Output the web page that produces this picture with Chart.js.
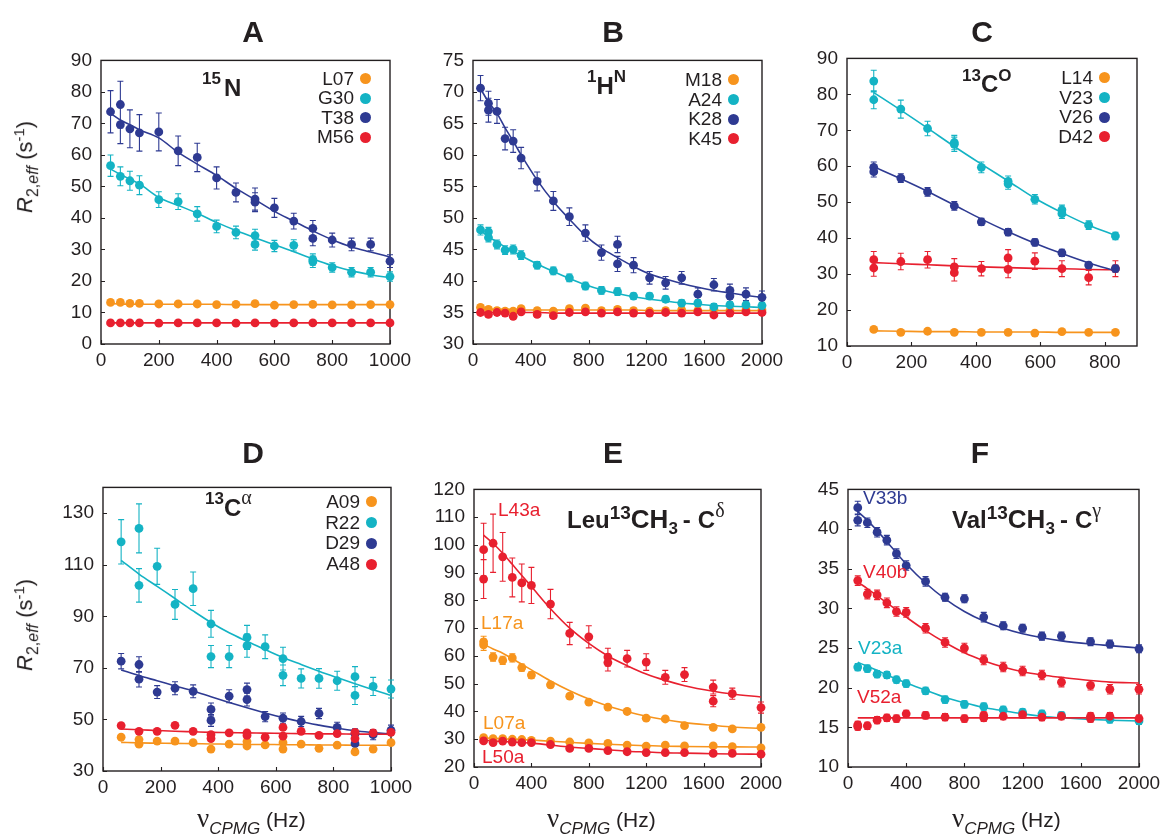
<!DOCTYPE html>
<html>
<head>
<meta charset="utf-8">
<script src="https://cdn.jsdelivr.net/npm/chart.js@4/dist/chart.umd.min.js"></script>
<style>
  body { margin: 0; background: #fff; }
  #fig { position: relative; width: 1161px; height: 835px; overflow: hidden; background: #fff;
         font-family: "Liberation Sans", Arial, Helvetica, sans-serif; color: #231f20; }
  #fig canvas { position: absolute; }
  .tx { position: absolute; white-space: nowrap; }
  .pl { font-weight: bold; font-size: 30px; line-height: 30px; transform: translateX(-50%); }
  .leg { position: absolute; text-align: right; font-size: 19px; white-space: nowrap; }
  .dot { display: inline-block; width: 11px; height: 11px; border-radius: 50%; margin-left: 6px; vertical-align: middle; position: relative; top: -1px; }
  .ann { font-weight: bold; font-size: 24px; line-height: 24px; }
  .su { position: relative; font-size: 17px; }
  .gr { font-family: "Liberation Serif", "DejaVu Serif", serif; font-weight: normal; }
  .big { font-weight: bold; font-size: 24px; line-height: 24px; }
  .lab { font-size: 19px; line-height: 19px; }
  .ytl { position: absolute; white-space: nowrap; font-size: 22px; line-height: 22px; transform: translate(-50%, -50%) rotate(-90deg); }
  .xtl { position: absolute; white-space: nowrap; font-size: 21px; line-height: 21px; }
</style>
</head>
<body>
<div id="fig">
  <!-- panel letters -->
  <div class="tx pl" style="left:253px;top:17px">A</div>
  <div class="tx pl" style="left:613px;top:17px">B</div>
  <div class="tx pl" style="left:982px;top:17px">C</div>
  <div class="tx pl" style="left:253px;top:438px">D</div>
  <div class="tx pl" style="left:613px;top:438px">E</div>
  <div class="tx pl" style="left:980px;top:438px">F</div>

  <!-- nucleus labels -->
  <div class="tx ann" style="left:202px;top:76px"><span class="su" style="top:-12px;margin-right:3px">15</span>N</div>
  <div class="tx ann" style="left:587px;top:74px"><span class="su" style="top:-12px">1</span>H<span class="su" style="top:-12px">N</span></div>
  <div class="tx ann" style="left:962px;top:72px"><span class="su" style="top:-11px">13</span>C<span class="su" style="top:-11px">O</span></div>
  <div class="tx ann" style="left:205px;top:496px"><span class="su" style="top:-12px">13</span>C<span class="su gr" style="top:-12px;font-size:20px">α</span></div>
  <div class="tx big" style="left:567px;top:507px">Leu<span class="su" style="top:-9px;font-size:19px">13</span><span style="font-size:26px">CH</span><span class="su" style="top:6px">3</span><span style="margin:0 7px 0 5px">-</span>C<span class="su gr" style="top:-11px;font-size:20px">δ</span></div>
  <div class="tx big" style="left:952px;top:507px">Val<span class="su" style="top:-9px;font-size:19px">13</span><span style="font-size:26px">CH</span><span class="su" style="top:6px">3</span><span style="margin:0 7px 0 5px">-</span>C<span class="su gr" style="top:-11px;font-size:20px">γ</span></div>

  <!-- legends -->
  <div class="leg" style="right:790px;top:69px;line-height:19.4px">
    <div>L07<span class="dot" style="background:#f7941d"></span></div>
    <div>G30<span class="dot" style="background:#14b3c4"></span></div>
    <div>T38<span class="dot" style="background:#2e3a92"></span></div>
    <div>M56<span class="dot" style="background:#e8202f"></span></div>
  </div>
  <div class="leg" style="right:422px;top:70px;line-height:19.6px">
    <div>M18<span class="dot" style="background:#f7941d"></span></div>
    <div>A24<span class="dot" style="background:#14b3c4"></span></div>
    <div>K28<span class="dot" style="background:#2e3a92"></span></div>
    <div>K45<span class="dot" style="background:#e8202f"></span></div>
  </div>
  <div class="leg" style="right:51px;top:68px;line-height:19.6px">
    <div>L14<span class="dot" style="background:#f7941d"></span></div>
    <div>V23<span class="dot" style="background:#14b3c4"></span></div>
    <div>V26<span class="dot" style="background:#2e3a92"></span></div>
    <div>D42<span class="dot" style="background:#e8202f"></span></div>
  </div>
  <div class="leg" style="right:784px;top:492px;line-height:20.7px">
    <div>A09<span class="dot" style="background:#f7941d"></span></div>
    <div>R22<span class="dot" style="background:#14b3c4"></span></div>
    <div>D29<span class="dot" style="background:#2e3a92"></span></div>
    <div>A48<span class="dot" style="background:#e8202f"></span></div>
  </div>

  <!-- methyl labels -->
  <div class="tx lab" style="left:498px;top:500px;color:#e8202f">L43a</div>
  <div class="tx lab" style="left:481px;top:613px;color:#f7941d">L17a</div>
  <div class="tx lab" style="left:483px;top:713px;color:#f7941d">L07a</div>
  <div class="tx lab" style="left:482px;top:747px;color:#e8202f">L50a</div>
  <div class="tx lab" style="left:863px;top:488px;color:#2e3a92">V33b</div>
  <div class="tx lab" style="left:863px;top:562px;color:#e8202f">V40b</div>
  <div class="tx lab" style="left:858px;top:638px;color:#14b3c4">V23a</div>
  <div class="tx lab" style="left:857px;top:687px;color:#e8202f">V52a</div>

  <!-- axis titles -->
  <div class="ytl" style="left:26px;top:167px"><i>R</i><sub style="font-size:16px">2,<i>eff</i></sub> (s<sup style="font-size:15px">-1</sup>)</div>
  <div class="ytl" style="left:26px;top:625px"><i>R</i><sub style="font-size:16px">2,<i>eff</i></sub> (s<sup style="font-size:15px">-1</sup>)</div>
  <div class="xtl" style="left:197px;top:808px"><span class="gr" style="font-size:27px">ν</span><span style="position:relative;top:7px;font-size:17px"><i>CPMG</i></span> (Hz)</div>
  <div class="xtl" style="left:547px;top:808px"><span class="gr" style="font-size:27px">ν</span><span style="position:relative;top:7px;font-size:17px"><i>CPMG</i></span> (Hz)</div>
  <div class="xtl" style="left:952px;top:808px"><span class="gr" style="font-size:27px">ν</span><span style="position:relative;top:7px;font-size:17px"><i>CPMG</i></span> (Hz)</div>
</div>

<script>
// ---------- Panel A: 15N ----------
const aX        = [33, 67, 100, 133, 200, 267, 333, 400, 467, 533, 600, 667, 733, 800, 867, 933, 1000];
const aL07      = [13.2, 13.2, 12.9, 12.9, 12.7, 12.7, 12.7, 12.5, 12.6, 12.8, 12.3, 12.5, 12.6, 12.4, 12.4, 12.5, 12.5];
const aL07Fit   = [12.8, 12.7, 12.6, 12.6, 12.6, 12.6, 12.6, 12.6, 12.5, 12.5, 12.5, 12.5, 12.5, 12.5, 12.5, 12.5, 12.5];
const aM56      = [6.7, 6.7, 6.7, 6.7, 6.6, 6.7, 6.7, 6.7, 6.6, 6.7, 6.6, 6.7, 6.7, 6.7, 6.7, 6.7, 6.7];
const aM56Fit   = [6.7, 6.7, 6.7, 6.7, 6.7, 6.7, 6.7, 6.7, 6.7, 6.7, 6.7, 6.7, 6.7, 6.7, 6.7, 6.7, 6.7];
const aG30X     = [33, 67, 100, 133, 200, 267, 333, 400, 467, 533, 533, 600, 667, 733, 733, 800, 867, 933, 1000];
const aG30      = [56.6, 53.2, 51.8, 50.4, 45.8, 45.2, 41.3, 37.3, 35.4, 34.4, 31.6, 31.1, 31.3, 26.8, 26.1, 24.3, 22.8, 22.8, 21.4];
const aG30Err   = [3.4, 3.0, 3.0, 3.0, 2.5, 2.5, 2.3, 2.0, 2.0, 2.0, 1.8, 1.8, 1.8, 1.8, 1.8, 1.5, 1.5, 1.5, 1.5];
const aG30Fit   = [55.5, 53.8, 52.3, 50.8, 46.5, 44.0, 41.5, 38.6, 36.0, 33.7, 31.5, 29.3, 27.0, 24.9, 23.2, 22.0, 21.0];
const aT38X     = [33, 67, 67, 100, 133, 200, 267, 333, 400, 467, 533, 533, 600, 667, 733, 733, 800, 867, 933, 1000];
const aT38      = [73.7, 76.0, 69.6, 68.3, 67.0, 67.3, 61.3, 59.2, 52.7, 48.1, 46.0, 45.0, 43.2, 39.0, 36.7, 33.5, 33.0, 31.6, 31.6, 26.3];
const aT38Err   = [6.7, 7.4, 6.0, 6.0, 5.8, 6.0, 4.7, 4.5, 3.5, 3.0, 3.5, 3.0, 3.0, 2.5, 2.5, 2.3, 2.2, 2.0, 2.0, 2.0];
const aT38Fit   = [73.2, 71.1, 69.6, 68.0, 65.4, 60.8, 57.1, 53.5, 49.4, 45.8, 42.1, 39.0, 35.9, 33.1, 30.8, 29.2, 27.6];
const aXTicks   = [0, 200, 400, 600, 800, 1000];
const aYTicks   = [0, 10, 20, 30, 40, 50, 60, 70, 80, 90];

// ---------- Panel B: 1HN ----------
const bX        = [52, 107, 166, 222, 278, 333, 444, 556, 667, 778, 889, 1000, 1111, 1222, 1333, 1444, 1556, 1667, 1778, 1889, 2000];
const bM18      = [35.8, 35.5, 35.3, 35.2, 35.2, 35.6, 35.3, 35.2, 35.6, 35.7, 35.3, 35.5, 35.3, 35.2, 35.3, 35.4, 35.3, 35.5, 35.3, 35.4, 35.4];
const bM18Fit   = [35.5, 35.5, 35.5, 35.5, 35.5, 35.4, 35.4, 35.4, 35.4, 35.4, 35.4, 35.4, 35.4, 35.3, 35.3, 35.3, 35.3, 35.3, 35.3, 35.3, 35.3];
const bK45      = [35.0, 34.7, 35.0, 34.9, 34.4, 35.1, 34.7, 34.5, 35.0, 35.1, 34.9, 35.1, 34.9, 34.9, 35.0, 34.9, 35.1, 34.6, 34.9, 35.1, 35.0];
const bK45Fit   = [35.0, 35.0, 35.0, 35.0, 35.0, 35.0, 35.0, 34.9, 34.9, 34.9, 34.9, 34.9, 34.9, 34.9, 34.9, 34.9, 34.9, 34.9, 34.9, 34.9, 34.9];
const bA24X     = [52, 107, 107, 166, 222, 278, 333, 444, 556, 667, 778, 889, 1000, 1111, 1222, 1333, 1444, 1556, 1667, 1778, 1889, 2000];
const bA24      = [48.1, 47.8, 46.9, 45.8, 44.9, 45.0, 44.1, 42.5, 41.6, 40.5, 39.2, 38.5, 38.3, 37.6, 37.6, 37.1, 36.5, 36.5, 35.9, 36.2, 36.2, 36.1];
const bA24Err   = [0.8, 0.7, 0.7, 0.7, 0.7, 0.7, 0.7, 0.6, 0.6, 0.6, 0.6, 0.6, 0.6, 0.5, 0.5, 0.5, 0.5, 0.5, 0.5, 0.5, 0.5, 0.5];
const bA24Fit   = [48.0, 47.0, 46.2, 45.4, 44.7, 44.0, 42.7, 41.5, 40.4, 39.4, 38.6, 38.0, 37.5, 37.1, 36.8, 36.5, 36.3, 36.1, 36.0, 35.9, 35.8];
const bK28X     = [52, 107, 107, 166, 222, 278, 333, 444, 556, 667, 778, 889, 1000, 1000, 1111, 1222, 1333, 1444, 1556, 1667, 1778, 1778, 1889, 2000];
const bK28      = [70.6, 68.2, 67.1, 66.9, 62.6, 62.2, 59.5, 55.8, 52.7, 50.2, 47.6, 44.5, 45.8, 42.7, 42.5, 40.5, 39.7, 40.5, 37.9, 39.4, 38.5, 37.6, 37.9, 37.4];
const bK28Err   = [2.0, 1.9, 1.9, 1.9, 1.8, 1.8, 1.7, 1.5, 1.5, 1.4, 1.3, 1.2, 1.3, 1.2, 1.2, 1.0, 1.0, 1.0, 1.0, 1.0, 1.0, 1.0, 1.0, 1.0];
const bK28Fit   = [70.5, 68.4, 66.6, 64.3, 62.2, 60.0, 56.0, 52.6, 49.8, 47.2, 45.2, 43.7, 42.3, 41.1, 40.3, 39.6, 39.0, 38.5, 38.1, 37.7, 37.4];
const bXTicks   = [0, 400, 800, 1200, 1600, 2000];
const bYTicks   = [30, 35, 40, 45, 50, 55, 60, 65, 70, 75];

// ---------- Panel C: 13CO ----------
const cX        = [83, 167, 250, 333, 417, 500, 583, 667, 750, 833];
const cL14      = [14.6, 13.8, 14.1, 13.8, 13.8, 13.8, 13.6, 14.0, 13.8, 13.8];
const cL14Fit   = [14.2, 14.1, 14.0, 14.0, 13.9, 13.9, 13.9, 13.8, 13.8, 13.8];
const cV23X     = [83, 83, 167, 250, 333, 333, 417, 500, 500, 583, 667, 667, 750, 833];
const cV23      = [83.7, 78.5, 75.9, 70.5, 66.6, 66.1, 59.7, 55.8, 55.1, 50.8, 47.9, 46.8, 43.6, 40.6];
const cV23Err   = [3.0, 2.5, 2.5, 2.0, 2.0, 2.0, 1.5, 1.5, 1.5, 1.3, 1.3, 1.3, 1.2, 1.0];
const cV23Fit   = [80.5, 75.6, 70.6, 65.5, 60.6, 55.9, 51.1, 47.1, 43.6, 40.8];
const cV26X     = [83, 83, 167, 250, 333, 417, 500, 583, 667, 750, 833];
const cV26      = [59.7, 58.5, 56.7, 52.9, 49.0, 44.5, 41.7, 38.8, 35.9, 32.5, 31.5];
const cV26Err   = [1.5, 1.5, 1.2, 1.2, 1.2, 1.0, 1.0, 1.0, 1.0, 0.8, 1.0];
const cV26Fit   = [59.9, 56.5, 53.0, 49.2, 45.3, 41.8, 38.6, 35.7, 33.1, 30.9];
const cD42X     = [83, 83, 167, 250, 333, 333, 417, 500, 500, 583, 667, 750, 833];
const cD42      = [34.0, 31.7, 33.5, 34.0, 32.0, 30.4, 31.5, 34.5, 31.3, 33.6, 31.5, 29.0, 31.5];
const cD42Err   = [2.3, 2.3, 2.3, 2.3, 2.3, 2.3, 2.0, 2.3, 2.3, 2.3, 2.2, 2.0, 2.2];
const cD42Fit   = [33.2, 32.9, 32.6, 32.3, 32.0, 31.8, 31.6, 31.5, 31.3, 31.2];
const cXTicks   = [0, 200, 400, 600, 800];
const cYTicks   = [10, 20, 30, 40, 50, 60, 70, 80, 90];

// ---------- Panel D: 13C alpha ----------
const dX        = [63, 125, 188, 250, 313, 375, 438, 500, 563, 625, 688, 750, 813, 875, 938, 1000];
const dA09X     = [63, 125, 125, 188, 250, 313, 375, 438, 500, 500, 563, 625, 625, 688, 750, 813, 875, 938, 1000];
const dA09      = [43.1, 42.2, 40.4, 41.6, 41.6, 41.0, 38.5, 40.4, 41.4, 39.7, 40.1, 41.0, 38.5, 40.4, 38.8, 40.0, 37.4, 38.5, 41.0];
const dA09Fit   = [41.1, 40.9, 40.8, 40.7, 40.6, 40.5, 40.4, 40.3, 40.3, 40.2, 40.2, 40.1, 40.1, 40.0, 40.0, 40.0];
const dA48X     = [63, 125, 188, 250, 313, 375, 375, 438, 500, 500, 563, 625, 625, 688, 750, 813, 875, 875, 938, 1000];
const dA48      = [47.6, 45.4, 45.4, 47.7, 45.4, 44.1, 42.6, 44.8, 44.8, 43.8, 43.1, 46.9, 43.5, 45.4, 43.8, 44.5, 45.0, 42.6, 44.8, 45.0];
const dA48Fit   = [46.3, 46.0, 45.7, 45.4, 45.2, 45.0, 44.9, 44.8, 44.7, 44.6, 44.5, 44.4, 44.4, 44.3, 44.3, 44.2];
const dR22X     = [63, 125, 125, 188, 250, 313, 375, 375, 438, 500, 500, 563, 625, 625, 688, 750, 813, 875, 875, 938, 1000];
const dR22      = [118.9, 124.1, 102.0, 109.4, 94.6, 100.7, 87.1, 74.4, 74.4, 81.8, 78.6, 78.2, 73.6, 67.1, 65.9, 65.9, 65.0, 66.6, 59.3, 62.8, 61.8];
const dR22Err   = [8.6, 9.5, 6.5, 7.0, 5.8, 6.5, 5.2, 4.3, 4.3, 4.7, 4.5, 4.6, 4.4, 4.0, 3.7, 3.8, 3.7, 3.9, 3.5, 3.5, 3.5];
const dR22Fit   = [111.7, 106.4, 101.6, 96.9, 92.1, 87.6, 83.6, 80.3, 77.1, 74.0, 71.3, 68.7, 66.2, 63.8, 61.5, 59.3];
const dD29X     = [63, 125, 125, 188, 250, 313, 375, 375, 438, 500, 500, 563, 625, 688, 750, 813, 875, 875, 938, 1000];
const dD29      = [72.6, 71.3, 65.6, 60.6, 62.1, 60.9, 53.9, 49.6, 59.0, 61.6, 57.7, 51.1, 50.5, 49.2, 52.3, 46.9, 44.4, 40.6, 44.1, 45.8];
const dD29Err   = [3.0, 3.0, 3.0, 2.5, 2.5, 2.5, 2.5, 2.3, 2.5, 2.5, 2.5, 2.0, 2.0, 2.0, 2.0, 2.0, 2.0, 2.0, 2.0, 2.0];
const dD29Fit   = [69.2, 67.0, 65.0, 63.0, 61.0, 58.8, 56.6, 54.5, 52.5, 50.7, 49.1, 47.8, 46.6, 45.6, 44.9, 44.3];
const dXTicks   = [0, 200, 400, 600, 800, 1000];
const dYTicks   = [30, 50, 70, 90, 110, 130];

// ---------- Panel E: Leu methyl C-delta ----------
const eX        = [67, 133, 200, 267, 333, 400, 533, 667, 800, 933, 1067, 1200, 1333, 1467, 1667, 1800, 2000];
const eL07a     = [30.6, 30.2, 30.2, 30.0, 29.9, 29.6, 29.3, 29.0, 28.7, 28.5, 27.9, 27.5, 27.9, 27.6, 27.6, 27.3, 26.9];
const eL07aFit  = [30.5, 30.3, 30.2, 30.0, 29.9, 29.7, 29.3, 28.9, 28.5, 28.2, 27.9, 27.7, 27.5, 27.4, 27.3, 27.25, 27.2];
const eL50a     = [29.4, 28.8, 29.3, 29.0, 28.8, 28.8, 28.1, 26.7, 26.7, 25.9, 25.5, 25.2, 25.2, 25.2, 24.9, 24.9, 24.6];
const eL50aFit  = [29.6, 29.4, 29.2, 29.0, 28.8, 28.6, 27.9, 27.2, 26.7, 26.2, 25.7, 25.4, 25.1, 25.0, 24.8, 24.7, 24.6];
const eL17aX    = [67, 67, 133, 200, 267, 333, 400, 533, 667, 800, 933, 1067, 1200, 1333, 1467, 1667, 1800, 2000];
const eL17a     = [65.1, 64.0, 59.6, 58.4, 59.3, 55.8, 53.1, 49.6, 45.5, 43.4, 41.6, 40.0, 37.6, 37.3, 34.9, 34.3, 33.7, 34.3];
const eL17aErr  = [2.0, 2.0, 1.5, 1.5, 1.5, 1.3, 1.2, 1.0, 1.0, 0.8, 0.8, 0.8, 0.7, 0.7, 0.7, 0.7, 0.7, 0.7];
const eL17aFit  = [64.2, 62.5, 61.0, 59.0, 57.0, 55.0, 51.0, 47.5, 44.5, 42.0, 40.0, 38.3, 37.0, 36.0, 35.0, 34.4, 33.9];
const eL43aX    = [67, 67, 133, 200, 267, 333, 400, 533, 667, 800, 933, 933, 1067, 1200, 1333, 1467, 1667, 1667, 1800, 2000];
const eL43a     = [98.3, 87.7, 100.6, 95.7, 88.3, 86.3, 85.4, 78.7, 68.1, 66.9, 59.6, 57.6, 59.0, 57.8, 52.3, 53.3, 48.8, 43.7, 46.4, 41.4];
const eL43aErr  = [9.5, 7.0, 10.5, 8.8, 7.0, 6.8, 6.5, 5.3, 4.0, 4.0, 3.2, 3.0, 3.0, 3.0, 2.5, 2.5, 2.5, 2.0, 2.0, 2.0];
const eL43aFit  = [103.5, 100.5, 97.0, 93.0, 89.0, 85.0, 77.0, 70.0, 64.5, 60.0, 56.5, 53.5, 51.2, 49.3, 47.3, 46.3, 45.2];
const eXTicks   = [0, 400, 800, 1200, 1600, 2000];
const eYTicks   = [20, 30, 40, 50, 60, 70, 80, 90, 100, 110, 120];

// ---------- Panel F: Val methyl C-gamma ----------
const fX        = [67, 133, 200, 267, 333, 400, 533, 667, 800, 933, 1067, 1200, 1333, 1467, 1667, 1800, 2000];
const fV33bX    = [67, 67, 133, 200, 267, 333, 400, 533, 667, 800, 933, 1067, 1200, 1333, 1467, 1667, 1800, 2000];
const fV33b     = [42.7, 41.1, 40.8, 39.6, 38.6, 36.9, 35.4, 33.4, 31.4, 31.2, 28.9, 27.8, 27.5, 26.5, 26.5, 25.8, 25.5, 24.9];
const fV33bErr  = [0.8, 0.7, 0.6, 0.6, 0.6, 0.6, 0.6, 0.6, 0.5, 0.5, 0.6, 0.5, 0.5, 0.5, 0.5, 0.5, 0.5, 0.5];
const fV33bFit  = [42.2, 41.1, 39.8, 38.4, 37.0, 35.6, 33.2, 31.2, 29.6, 28.4, 27.5, 26.8, 26.3, 25.9, 25.5, 25.3, 25.0];
const fV40b     = [33.5, 31.8, 31.7, 30.7, 29.6, 29.5, 27.5, 25.7, 25.0, 23.5, 22.6, 22.1, 21.6, 20.7, 20.3, 19.8, 19.8];
const fV40bFit  = [33.3, 32.5, 31.6, 30.7, 29.8, 28.9, 27.2, 25.7, 24.4, 23.4, 22.6, 22.0, 21.6, 21.3, 20.9, 20.7, 20.6];
const fV23a     = [22.6, 22.4, 21.7, 21.6, 21.0, 20.5, 19.6, 18.5, 17.9, 17.6, 17.2, 16.9, 16.7, 16.5, 16.2, 16.0, 15.8];
const fV23aFit  = [23.2, 22.7, 22.2, 21.6, 21.1, 20.6, 19.7, 18.8, 18.1, 17.5, 17.1, 16.7, 16.4, 16.2, 16.0, 15.9, 15.8];
const fV52aX    = [67, 67, 133, 200, 267, 333, 400, 533, 667, 800, 933, 933, 1067, 1200, 1333, 1467, 1667, 1667, 1800, 2000];
const fV52a     = [15.1, 15.3, 15.2, 15.9, 16.2, 16.1, 16.7, 16.5, 16.3, 16.1, 16.5, 16.2, 16.4, 16.6, 16.3, 16.4, 16.1, 16.4, 16.4, 16.1];
const fV52aFit  = [16.2, 16.2, 16.2, 16.2, 16.2, 16.2, 16.2, 16.2, 16.2, 16.2, 16.2, 16.2, 16.2, 16.2, 16.2, 16.2, 16.2];
const fXTicks   = [0, 400, 800, 1200, 1600, 2000];
const fYTicks   = [10, 15, 20, 25, 30, 35, 40, 45];

// ---------- styling ----------
const ORANGE = '#f7941d', CYAN = '#14b3c4', BLUE = '#2e3a92', RED = '#e8202f';
const INK = '#231f20';
const TICK_FONT = { family: '"Liberation Sans", Arial, Helvetica, sans-serif', size: 19 };
const PAD_L = 62, PAD_T = 14, PAD_R = 30, PAD_B = 34;

const pts = (xs, ys) => xs.map((x, i) => ({ x, y: ys[i] }));
const same = (v, n) => new Array(n).fill(v);

// frame, inward tick marks and error bars, drawn beneath the markers
const framePlugin = {
  id: 'frameAndErrors',
  beforeDatasetsDraw(chart) {
    const { ctx, chartArea: a, scales: { x, y } } = chart;
    ctx.save();
    ctx.strokeStyle = INK;
    ctx.lineWidth = 1.4;
    ctx.strokeRect(a.left, a.top, a.right - a.left, a.bottom - a.top);
    ctx.lineWidth = 1.1;
    ctx.beginPath();
    x.ticks.forEach(t => { const p = Math.round(x.getPixelForValue(t.value)) + 0.5; ctx.moveTo(p, a.bottom); ctx.lineTo(p, a.bottom - 4); });
    y.ticks.forEach(t => { const p = Math.round(y.getPixelForValue(t.value)) + 0.5; ctx.moveTo(a.left, p); ctx.lineTo(a.left + 4, p); });
    ctx.stroke();
    chart.data.datasets.forEach(ds => {
      if (!ds.err) return;
      ctx.strokeStyle = ds.pointBackgroundColor;
      ctx.lineWidth = 1.1;
      ctx.beginPath();
      ds.data.forEach((p, j) => {
        const e = ds.err[j];
        if (!e) return;
        const px = x.getPixelForValue(p.x);
        const y1 = y.getPixelForValue(p.y + e), y2 = y.getPixelForValue(p.y - e);
        ctx.moveTo(px, y1); ctx.lineTo(px, y2);
        ctx.moveTo(px - 3, y1); ctx.lineTo(px + 3, y1);
        ctx.moveTo(px - 3, y2); ctx.lineTo(px + 3, y2);
      });
      ctx.stroke();
    });
    ctx.restore();
  }
};

function panel(box, xr, yr, xTicks, yTicks, list) {
  const fig = document.getElementById('fig');
  const cv = document.createElement('canvas');
  const w = box.r - box.l + PAD_L + PAD_R, h = box.b - box.t + PAD_T + PAD_B;
  cv.width = w; cv.height = h;
  Object.assign(cv.style, { left: (box.l - PAD_L) + 'px', top: (box.t - PAD_T) + 'px', width: w + 'px', height: h + 'px' });
  fig.insertBefore(cv, fig.firstChild);

  const datasets = [];
  list.forEach(s => datasets.push({
    data: pts(s.x, s.y), err: s.e, order: 0, clip: false,
    pointRadius: 4.4, pointBackgroundColor: s.c, pointBorderWidth: 0, pointHoverRadius: 4.4, showLine: false
  }));
  list.forEach(s => datasets.push({
    data: pts(s.fx, s.fy), order: 1, clip: false, showLine: true,
    borderColor: s.c, borderWidth: 1.6, pointRadius: 0, cubicInterpolationMode: 'monotone'
  }));

  const axis = (range, ticks, isX) => ({
    type: 'linear', min: range[0], max: range[1],
    grid: { display: false, drawTicks: false }, border: { display: false },
    afterBuildTicks: sc => { sc.ticks = ticks.map(v => ({ value: v })); },
    afterFit: sc => { if (isX) sc.height = PAD_B; else sc.width = PAD_L; },
    ticks: { font: TICK_FONT, color: INK, padding: isX ? 5 : 9, maxRotation: 0, autoSkip: false, callback: v => String(v) }
  });

  new Chart(cv, {
    type: 'scatter',
    data: { datasets },
    options: {
      responsive: false, animation: false, devicePixelRatio: 1,
      layout: { padding: { left: 0, top: PAD_T, right: PAD_R, bottom: 0 } },
      plugins: { legend: { display: false }, tooltip: { enabled: false } },
      events: [],
      scales: { x: axis(xr, xTicks, true), y: axis(yr, yTicks, false) }
    },
    plugins: [framePlugin]
  });
}

panel({ l: 101, t: 54, r: 390, b: 344 }, [0, 1000], [0, 90], aXTicks, aYTicks, [
  { c: BLUE,   x: aT38X, y: aT38, e: aT38Err, fx: aX, fy: aT38Fit },
  { c: CYAN,   x: aG30X, y: aG30, e: aG30Err, fx: aX, fy: aG30Fit },
  { c: ORANGE, x: aX, y: aL07, e: same(0.4, aX.length), fx: aX, fy: aL07Fit },
  { c: RED,    x: aX, y: aM56, e: same(0.3, aX.length), fx: aX, fy: aM56Fit }
]);
panel({ l: 473, t: 54, r: 762, b: 344 }, [0, 2000], [30, 75], bXTicks, bYTicks, [
  { c: BLUE,   x: bK28X, y: bK28, e: bK28Err, fx: bX, fy: bK28Fit },
  { c: CYAN,   x: bA24X, y: bA24, e: bA24Err, fx: bX, fy: bA24Fit },
  { c: RED,    x: bX, y: bK45, e: same(0.4, bX.length), fx: bX, fy: bK45Fit },
  { c: ORANGE, x: bX, y: bM18, e: same(0.4, bX.length), fx: bX, fy: bM18Fit }
]);
panel({ l: 847, t: 52, r: 1137, b: 346 }, [0, 900], [10, 90], cXTicks, cYTicks, [
  { c: CYAN,   x: cV23X, y: cV23, e: cV23Err, fx: cX, fy: cV23Fit },
  { c: BLUE,   x: cV26X, y: cV26, e: cV26Err, fx: cX, fy: cV26Fit },
  { c: RED,    x: cD42X, y: cD42, e: cD42Err, fx: cX, fy: cD42Fit },
  { c: ORANGE, x: cX, y: cL14, e: same(0.5, cX.length), fx: cX, fy: cL14Fit }
]);
panel({ l: 103, t: 481, r: 391, b: 771 }, [0, 1000], [30, 140], dXTicks, dYTicks, [
  { c: RED,    x: dA48X, y: dA48, e: null, fx: dX, fy: dA48Fit },
  { c: ORANGE, x: dA09X, y: dA09, e: null, fx: dX, fy: dA09Fit },
  { c: BLUE,   x: dD29X, y: dD29, e: dD29Err, fx: dX, fy: dD29Fit },
  { c: CYAN,   x: dR22X, y: dR22, e: dR22Err, fx: dX, fy: dR22Fit }
]);
panel({ l: 474, t: 483, r: 761, b: 767 }, [0, 2000], [20, 120], eXTicks, eYTicks, [
  { c: RED,    x: eL43aX, y: eL43a, e: eL43aErr, fx: eX, fy: eL43aFit },
  { c: ORANGE, x: eL17aX, y: eL17a, e: eL17aErr, fx: eX, fy: eL17aFit },
  { c: RED,    x: eX, y: eL50a, e: same(0.5, eX.length), fx: eX, fy: eL50aFit },
  { c: ORANGE, x: eX, y: eL07a, e: same(0.5, eX.length), fx: eX, fy: eL07aFit }
]);
panel({ l: 848, t: 483, r: 1139, b: 767 }, [0, 2000], [10, 45], fXTicks, fYTicks, [
  { c: BLUE,   x: fV33bX, y: fV33b, e: fV33bErr, fx: fX, fy: fV33bFit },
  { c: RED,    x: fX, y: fV40b, e: same(0.6, fX.length), fx: fX, fy: fV40bFit },
  { c: RED,    x: fV52aX, y: fV52a, e: same(0.45, fV52aX.length), fx: fX, fy: fV52aFit },
  { c: CYAN,   x: fX, y: fV23a, e: same(0.45, fX.length), fx: fX, fy: fV23aFit }
]);
</script>
</body>
</html>
